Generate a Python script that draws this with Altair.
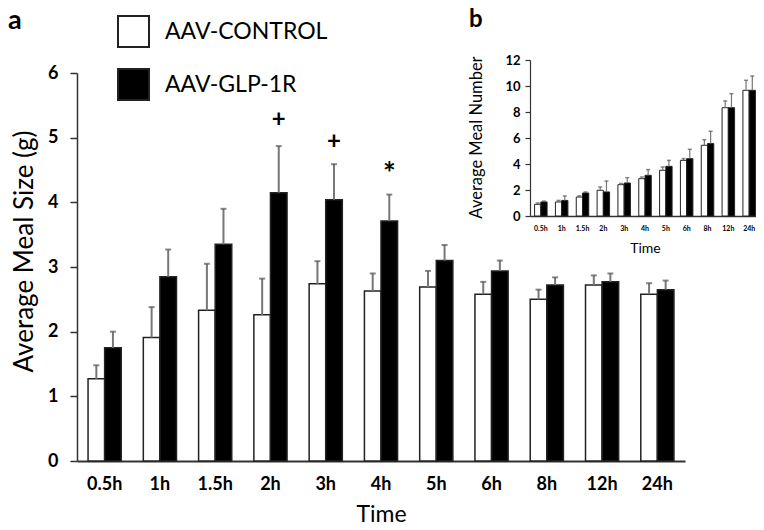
import altair as alt
import pandas as pd

times = ["0.5h", "1h", "1.5h", "2h", "3h", "4h", "5h", "6h", "8h", "12h", "24h"]
groups = ["AAV-CONTROL", "AAV-GLP-1R"]

# Panel a: average meal size (g), mean and SEM
size_ctrl = [1.27, 1.91, 2.33, 2.26, 2.74, 2.63, 2.69, 2.58, 2.50, 2.72, 2.58]
size_ctrl_sem = [0.21, 0.47, 0.72, 0.56, 0.35, 0.27, 0.25, 0.19, 0.15, 0.15, 0.17]
size_glp = [1.75, 2.85, 3.35, 4.15, 4.04, 3.71, 3.10, 2.94, 2.72, 2.77, 2.65]
size_glp_sem = [0.25, 0.42, 0.55, 0.72, 0.55, 0.41, 0.24, 0.16, 0.12, 0.13, 0.14]

# Panel b: average meal number, mean and SEM
num_ctrl = [0.90, 1.08, 1.46, 1.98, 2.41, 2.87, 3.52, 4.28, 5.44, 8.33, 9.67]
num_ctrl_sem = [0.10, 0.12, 0.09, 0.25, 0.09, 0.13, 0.25, 0.13, 0.43, 0.52, 0.77]
num_glp = [1.08, 1.20, 1.77, 1.85, 2.54, 3.13, 3.82, 4.41, 5.57, 8.33, 9.67]
num_glp_sem = [0.07, 0.34, 0.08, 0.84, 0.41, 0.44, 0.46, 0.72, 0.95, 1.08, 1.10]

# significance markers on panel a
sig_time = ["2h", "3h", "4h"]
sig_text = ["+", "+", "*"]
sig_y = [5.27, 4.94, 4.42]
sig_size = [24, 24, 30]

panel_letters = ["a", "b"]


def build(means_a, sems_a, means_b, sems_b):
    rows = []
    for i, t in enumerate(times):
        rows.append(dict(time=t, group=groups[0], value=means_a[i], top=means_a[i] + sems_a[i]))
        rows.append(dict(time=t, group=groups[1], value=means_b[i], top=means_b[i] + sems_b[i]))
    return pd.DataFrame(rows)


main_df = build(size_ctrl, size_ctrl_sem, size_glp, size_glp_sem)
inset_df = build(num_ctrl, num_ctrl_sem, num_glp, num_glp_sem)
sig_df = pd.DataFrame(dict(time=sig_time, text=sig_text, y=sig_y, fs=sig_size, group=[groups[1]] * 3))

W, H = 748, 518
FONT = "Lato"
AX = "#333333"

fill = alt.Fill(
    "group:N",
    scale=alt.Scale(domain=groups, range=["white", "black"]),
    legend=alt.Legend(
        orient="none", legendX=109, legendY=7, title=None, symbolType="square",
        symbolSize=961, symbolStrokeColor="#222", symbolStrokeWidth=2,
        labelFont=FONT, labelFontSize=23, labelColor="black", labelOffset=15,
        rowPadding=14, padding=0, labelLimit=400,
    ),
)

# ---------- main panel ----------
mx = alt.X(
    "time:N", sort=times,
    scale=alt.Scale(domain=times, range=[69, 677], paddingInner=0.4, paddingOuter=0.2),
    axis=alt.Axis(
        orient="bottom", offset=-(H - 453), ticks=False, labelAngle=0, labelFont=FONT,
        labelFontWeight="bold", labelFontSize=18, labelColor="black", labelPadding=14,
        domainColor=AX, domainWidth=2, grid=False,
        title="Time", titleFont=FONT, titleFontSize=23, titleFontWeight="normal",
        titleColor="black", titleY=60, titleBaseline="alphabetic",
    ),
)
mxo = alt.XOffset("group:N", sort=groups, scale=alt.Scale(domain=groups, paddingInner=0, paddingOuter=0))
my_axis = alt.Axis(
    orient="left", offset=-69, values=[0, 1, 2, 3, 4, 5, 6], format="d", tickSize=7,
    tickWidth=1.5, tickColor=AX, domainColor=AX, domainWidth=1.5, grid=False,
    labelFont=FONT, labelFontWeight="bold", labelFontSize=18, labelColor="black", labelPadding=12,
    title="Average Meal Size (g)", titleFont=FONT, titleFontSize=26, titleFontWeight="normal",
    titleColor="black", titleX=-53, titleY=243, titleBaseline="middle", titleAlign="center", titleAngle=-90,
)
my_scale = alt.Scale(domain=[0, 6], range=[453, 65], nice=False)

m_bars = alt.Chart(main_df).mark_bar(stroke="#222", strokeWidth=1.5).encode(
    x=mx, xOffset=mxo, y=alt.Y("value:Q", scale=my_scale, axis=my_axis), fill=fill,
)
m_err = alt.Chart(main_df).mark_rule(color="#777", strokeWidth=2).encode(
    x=mx, xOffset=mxo, y=alt.Y("value:Q", scale=my_scale, axis=my_axis), y2="top:Q",
)
m_cap = alt.Chart(main_df).mark_tick(color="#555", thickness=2, size=6).encode(
    x=mx, xOffset=mxo, y=alt.Y("top:Q", scale=my_scale, axis=my_axis),
)
m_sig = alt.Chart(sig_df).mark_text(font=FONT, fontWeight="bold", color="black", baseline="middle").encode(
    x=mx, xOffset=mxo, y=alt.Y("y:Q", scale=my_scale, axis=my_axis), text="text:N",
    size=alt.Size("fs:Q", scale=None, legend=None),
)
main = alt.layer(m_bars, m_err, m_cap, m_sig)

# ---------- inset panel ----------
ix = alt.X(
    "time:N", sort=times,
    scale=alt.Scale(domain=times, range=[522, 752], paddingInner=0.4, paddingOuter=0.22),
    axis=alt.Axis(
        orient="bottom", offset=-(H - 208), ticks=False, labelAngle=0, labelFont=FONT,
        labelFontWeight="bold", labelFontSize=7, labelColor="black", labelPadding=8,
        domainColor=AX, domainWidth=1.5, grid=False,
        title="Time", titleFont=FONT, titleFontSize=14, titleFontWeight="normal",
        titleColor="black", titleY=32, titleBaseline="middle",
    ),
)
ixo = alt.XOffset("group:N", sort=groups, scale=alt.Scale(domain=groups, paddingInner=0, paddingOuter=0))
iy_axis = alt.Axis(
    orient="left", offset=-522, values=[0, 2, 4, 6, 8, 10, 12], format="d", tickSize=5,
    tickWidth=1.2, tickColor=AX, domainColor=AX, domainWidth=1.2, grid=False,
    labelFont=FONT, labelFontWeight="bold", labelFontSize=13, labelColor="black", labelPadding=5,
    title="Average Meal Number", titleFont=FONT, titleFontSize=16.5, titleFontWeight="normal",
    titleColor="black", titleX=-54, titleY=129, titleBaseline="middle", titleAlign="center", titleAngle=-90,
)
iy_scale = alt.Scale(domain=[0, 12], range=[208, 52], nice=False)

i_bars = alt.Chart(inset_df).mark_bar(stroke="#222", strokeWidth=1).encode(
    x=ix, xOffset=ixo, y=alt.Y("value:Q", scale=iy_scale, axis=iy_axis), fill=fill,
)
i_err = alt.Chart(inset_df).mark_rule(color="#777", strokeWidth=1.2).encode(
    x=ix, xOffset=ixo, y=alt.Y("value:Q", scale=iy_scale, axis=iy_axis), y2="top:Q",
)
i_cap = alt.Chart(inset_df).mark_tick(color="#555", thickness=1.5, size=4).encode(
    x=ix, xOffset=ixo, y=alt.Y("top:Q", scale=iy_scale, axis=iy_axis),
)
inset = alt.layer(i_bars, i_err, i_cap)

# ---------- panel letters ----------
letters_df = pd.DataFrame(dict(label=panel_letters))
let_a = alt.Chart(letters_df).transform_filter(alt.datum.label == "a").mark_text(
    font=FONT, fontSize=27, fontWeight="bold", color="black", align="left", baseline="top"
).encode(x=alt.value(0), y=alt.value(0), text="label:N")
let_b = alt.Chart(letters_df).transform_filter(alt.datum.label == "b").mark_text(
    font=FONT, fontSize=24, fontWeight="bold", color="black", align="left", baseline="top"
).encode(x=alt.value(461), y=alt.value(0), text="label:N")

chart = alt.layer(main, inset, let_a, let_b).resolve_scale(
    x="independent", y="independent", xOffset="independent"
).resolve_axis(x="independent", y="independent").properties(
    width=W, height=H, autosize=alt.AutoSizeParams(type="none"), padding=0
).configure(font=FONT).configure_view(stroke=None)

chart.save("out.html", embed_options={"renderer": "svg", "actions": False})
